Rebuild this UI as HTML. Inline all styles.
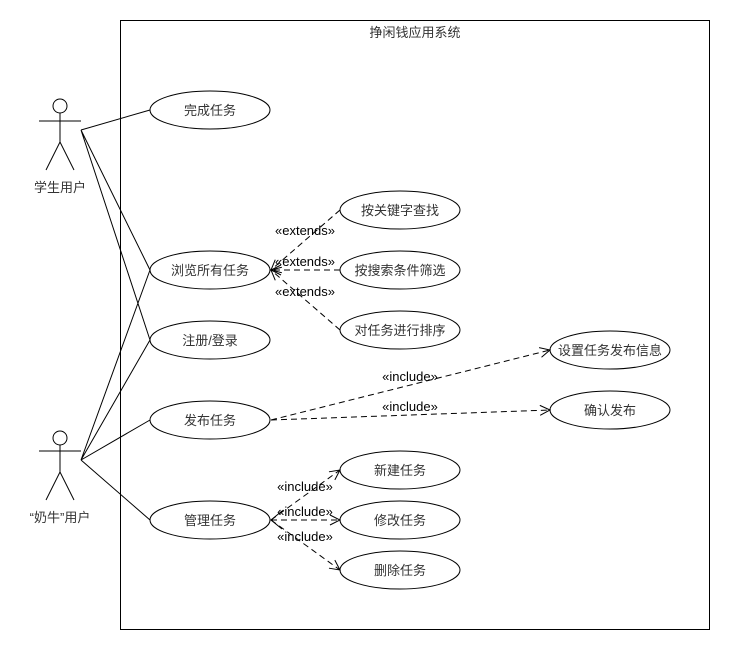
<!DOCTYPE html>
<html><head><meta charset="utf-8"><style>
html,body{margin:0;padding:0;background:#fff;}
svg text{font-family:"Liberation Sans","Noto Sans CJK SC",sans-serif;font-size:13px;fill:#333;}
.l{font-size:13px;fill:#000;}
</style></head><body>
<svg width="730" height="650" viewBox="0 0 730 650" xmlns="http://www.w3.org/2000/svg">
<defs><marker id="a" markerWidth="12" markerHeight="12" refX="11" refY="6" orient="auto" markerUnits="userSpaceOnUse"><path d="M1,1 L11,6 L1,11" fill="none" stroke="#000" stroke-width="1"/></marker></defs>
<rect x="120.5" y="20.5" width="589" height="609" fill="none" stroke="#000"/>
<text x="415" y="37" text-anchor="middle">挣闲钱应用系统</text>
<g stroke="#000" fill="none">
<circle cx="60" cy="106" r="7"/><line x1="39" y1="121" x2="81" y2="121"/><line x1="60" y1="113" x2="60" y2="142"/><line x1="60" y1="142" x2="46" y2="170"/><line x1="60" y1="142" x2="74" y2="170"/>
<circle cx="60" cy="438" r="7"/><line x1="39" y1="451" x2="81" y2="451"/><line x1="60" y1="445" x2="60" y2="472"/><line x1="60" y1="472" x2="46" y2="500"/><line x1="60" y1="472" x2="74" y2="500"/>
<path d="M81,130 L150,110 M81,130 L150,270 M81,130 L150,340 M81,460 L150,270 M81,460 L150,340 M81,460 L150,420 M81,460 L150,520"/>
<ellipse cx="210" cy="110" rx="60" ry="19"/><ellipse cx="210" cy="270" rx="60" ry="19"/><ellipse cx="210" cy="340" rx="60" ry="19"/><ellipse cx="210" cy="420" rx="60" ry="19"/><ellipse cx="210" cy="520" rx="60" ry="19"/>
<ellipse cx="400" cy="210" rx="60" ry="19"/><ellipse cx="400" cy="270" rx="60" ry="19"/><ellipse cx="400" cy="330" rx="60" ry="19"/>
<ellipse cx="400" cy="470" rx="60" ry="19"/><ellipse cx="400" cy="520" rx="60" ry="19"/><ellipse cx="400" cy="570" rx="60" ry="19"/>
<ellipse cx="610" cy="350" rx="60" ry="19"/><ellipse cx="610" cy="410" rx="60" ry="19"/>
<g stroke-dasharray="6,4" marker-end="url(#a)">
<line x1="340" y1="210" x2="271" y2="270"/><line x1="340" y1="270" x2="271" y2="270"/><line x1="340" y1="330" x2="271" y2="270"/>
<line x1="271" y1="420" x2="550" y2="350"/><line x1="271" y1="420" x2="550" y2="410"/>
<line x1="271" y1="520" x2="340" y2="470"/><line x1="271" y1="520" x2="340" y2="520"/><line x1="271" y1="520" x2="340" y2="570"/>
</g>
<path d="M282,511 L271,520 L282,529" />
</g>
<text x="60" y="192" text-anchor="middle">学生用户</text>
<text x="60" y="522" text-anchor="middle">“奶牛”用户</text>
<g text-anchor="middle">
<text x="210" y="115">完成任务</text><text x="210" y="275">浏览所有任务</text><text x="210" y="345">注册/登录</text><text x="210" y="425">发布任务</text><text x="210" y="525">管理任务</text>
<text x="400" y="215">按关键字查找</text><text x="400" y="275">按搜索条件筛选</text><text x="400" y="335">对任务进行排序</text>
<text x="400" y="475">新建任务</text><text x="400" y="525">修改任务</text><text x="400" y="575">删除任务</text>
<text x="610" y="355">设置任务发布信息</text><text x="610" y="415">确认发布</text>
<text class="l" x="305" y="235">«extends»</text><text class="l" x="305" y="266">«extends»</text><text class="l" x="305" y="296">«extends»</text>
<text class="l" x="410" y="381">«include»</text><text class="l" x="410" y="411">«include»</text>
<text class="l" x="305" y="491">«include»</text><text class="l" x="305" y="516">«include»</text><text class="l" x="305" y="541">«include»</text>
</g>
</svg>
</body></html>
